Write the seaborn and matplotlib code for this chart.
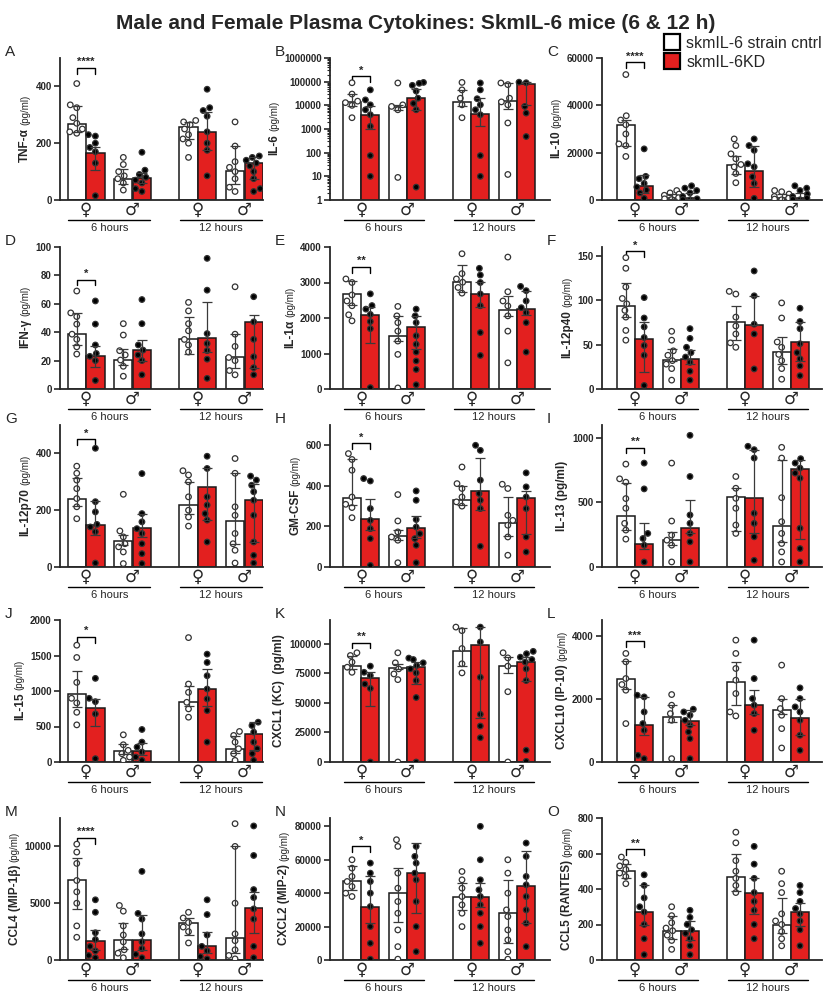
import numpy as np
import pandas as pd
import matplotlib
matplotlib.use("Agg")
import matplotlib.pyplot as plt
import seaborn as sns
from matplotlib.patches import Patch
from matplotlib.ticker import FixedLocator, LogLocator, NullFormatter

# groupes : F 6h, M 6h, F 12h, M 12h  x  (cntrl, KD)
conds = ["cntrl", "KD", "cntrl", "KD", "cntrl", "KD", "cntrl", "KD"]
sex_labels = ["♀", "♂", "♀", "♂"]
time_labels = ["6 hours", "12 hours"]
legend_labels = ["skmIL-6 strain cntrl", "skmIL-6KD"]

# A - TNF-a
a_med = [268, 167, 75, 77, 258, 240, 103, 130]
a_lo = [240, 105, 55, 60, 215, 175, 55, 75]
a_hi = [330, 188, 110, 95, 275, 310, 190, 150]
a_pts = [[410, 335, 325, 290, 270, 250, 240, 235],
         [230, 225, 200, 185, 170, 130, 15],
         [150, 125, 100, 85, 75, 60, 35],
         [168, 105, 90, 80, 70, 60, 40, 30],
         [280, 275, 265, 250, 230, 215, 200, 150],
         [390, 325, 315, 295, 240, 200, 175, 85],
         [275, 190, 135, 115, 100, 75, 45, 30],
         [155, 150, 140, 130, 120, 100, 75, 40, 30]]

# B - IL-6 (log)
b_med = [14000, 3800, 8500, 20000, 14000, 4400, 16000, 80000]
b_lo = [9000, 1000, 6500, 6500, 9000, 1300, 7000, 10500]
b_hi = [30000, 9000, 10500, 50000, 45000, 20000, 85000, 95000]
b_pts = [[90000, 30000, 15000, 13000, 10000, 3000],
         [45000, 17000, 10500, 6500, 4000, 1300, 75, 10],
         [88000, 10500, 9000, 6500, 9],
         [93000, 85000, 70000, 40000, 20000, 12000, 6500, 3.5],
         [93000, 45000, 20000, 10500, 3000],
         [88000, 45000, 19000, 10500, 6500, 4000, 75, 10],
         [88000, 75000, 20000, 14000, 10500, 1800, 12],
         [95000, 90000, 9000, 4700, 480]]

# C - IL-10
c_med = [31800, 5900, 1000, 900, 14600, 12100, 800, 900]
c_lo = [23000, 2800, 300, 300, 11000, 5600, 200, 300]
c_hi = [33800, 10500, 2500, 3000, 18800, 23000, 2500, 3000]
c_pts = [[53000, 35600, 33800, 31800, 27900, 23700, 23000, 18400],
         [21600, 10000, 9000, 7000, 5500, 4200, 3000, 700],
         [4000, 3000, 2500, 2000, 1000, 500, 200],
         [6000, 5000, 4000, 3000, 1500, 500, 200, 100],
         [25800, 23000, 19500, 17400, 15000, 14000, 11200, 7300],
         [25800, 23000, 21000, 15300, 14000, 9800, 7000, 700],
         [4000, 3500, 2500, 1500, 800, 400, 100],
         [6000, 5000, 4000, 2500, 1500, 800, 300, 100]]

# D - IFN-g
d_med = [38.6, 23.4, 20.4, 27.4, 34.9, 35.6, 22.2, 47.3]
d_lo = [31, 15.2, 17, 20, 25, 26, 15, 15]
d_hi = [53.6, 30.4, 28, 34.4, 51, 61, 38.6, 52]
d_pts = [[69, 53.6, 51, 45.7, 38.6, 35, 29.7, 24.6],
         [62, 45.7, 31, 25, 23, 20, 6],
         [46, 38, 27, 24, 20.4, 16, 9],
         [63, 46, 31, 27.4, 24, 20, 10],
         [61, 55, 46, 41, 34.9, 31, 26],
         [92, 69.6, 39, 32, 27, 21, 7.5],
         [72, 38.6, 30, 22.2, 20, 13, 10],
         [65, 47.3, 35, 22.7, 15, 10]]

# E - IL-1a
e_med = [2676, 2090, 1494, 1750, 3007, 2676, 2222, 2250]
e_lo = [2365, 1300, 1350, 1115, 2720, 2300, 2060, 2080]
e_hi = [3055, 2300, 2060, 2060, 3500, 3026, 2630, 2750]
e_pts = [[3100, 3000, 2650, 2480, 2345, 2090, 1920],
         [2680, 2350, 2250, 2100, 1900, 1700, 40],
         [2326, 2060, 1870, 1630, 1350, 975, 30],
         [2250, 2060, 1870, 1500, 1260, 1040, 790, 550, 120],
         [3810, 3250, 3100, 3007, 2860, 2700],
         [3400, 3210, 3000, 2676, 2345, 1590, 945],
         [3716, 2740, 2480, 2340, 2060, 1630, 737],
         [2890, 2770, 2480, 2290, 2150, 1870, 1040]]

# F - IL-12p40
f_med = [93, 56.5, 33, 34, 75, 72, 41.5, 53]
f_lo = [81, 19, 31, 28, 55, 71.6, 28, 31]
f_hi = [120, 75, 45, 44, 93.5, 105, 59, 76]
f_pts = [[148, 136, 115, 102, 96, 88.6, 81, 66, 55],
         [103, 80, 70, 58, 49, 38, 4],
         [65, 55, 43, 38, 32, 28, 23, 10],
         [68, 57, 47, 41, 36, 30, 20, 10],
         [110, 107, 81, 71, 62, 52, 47],
         [133, 105, 73, 62, 22.6],
         [97, 80, 53, 47, 39, 32, 23, 11],
         [91, 76, 68, 51, 41, 34, 26, 15]]

# G - IL-12p70
g_med = [241, 149, 91, 138, 218, 280, 162, 235]
g_lo = [214, 112, 76, 106, 188, 165, 82, 88]
g_hi = [315, 232, 112, 188, 300, 347, 330, 294]
g_pts = [[355, 330, 306, 276, 241, 212, 170],
         [418, 230, 194, 150, 141, 124, 14],
         [256, 127, 106, 82, 71, 53, 12],
         [329, 188, 159, 135, 118, 82, 47, 12],
         [339, 324, 300, 247, 200, 176, 144],
         [390, 347, 247, 218, 188, 165, 88],
         [382, 330, 212, 182, 118, 82, 59, 14],
         [320, 306, 288, 265, 235, 182, 88, 41, 14]]

# H - GM-CSF
h_med = [340, 235, 153, 192, 329, 375, 219, 342]
h_lo = [304, 181, 132, 145, 304, 280, 151, 164]
h_hi = [530, 337, 181, 250, 398, 535, 345, 375]
h_pts = [[559, 530, 477, 345, 309, 293, 243],
         [436, 424, 288, 230, 189, 140, 8],
         [357, 227, 173, 148, 132, 21],
         [375, 329, 234, 197, 164, 140, 107, 21],
         [493, 411, 387, 345, 321, 300],
         [600, 575, 428, 362, 329, 288, 102],
         [408, 387, 255, 230, 206, 148, 58],
         [464, 395, 345, 288, 148, 74]]

# I - IL-13
i_med = [395, 177, 213, 304, 540, 532, 320, 761]
i_lo = [290, 143, 169, 260, 278, 260, 190, 220]
i_hi = [650, 343, 273, 520, 615, 909, 831, 831]
i_pts = [[797, 683, 657, 530, 455, 338, 286, 216],
         [805, 605, 260, 221, 169, 39],
         [805, 356, 247, 208, 169, 39],
         [1020, 701, 403, 338, 260, 195, 39],
         [701, 610, 532, 455, 325, 260],
         [935, 909, 844, 416, 338, 234, 52],
         [927, 844, 537, 351, 260, 182, 117, 39],
         [839, 805, 766, 727, 688, 300, 143, 39]]

# J - IL-15
j_med = [958, 757, 150, 150, 850, 1028, 178, 397]
j_lo = [771, 514, 117, 93, 794, 794, 126, 164]
j_hi = [1285, 888, 257, 266, 1075, 1308, 364, 561]
j_pts = [[1645, 1472, 1121, 897, 832, 700, 523],
         [1178, 897, 850, 677, 47],
         [383, 243, 164, 117, 70, 23],
         [458, 280, 210, 140, 70, 23],
         [1752, 1098, 981, 841, 748, 631],
         [1519, 1402, 1215, 1028, 888, 724, 280],
         [430, 374, 280, 187, 117, 23],
         [561, 514, 421, 280, 187, 117, 23]]

# K - CXCL1 (KC)
k_med = [81500, 70700, 79500, 80100, 93500, 98600, 81500, 84400]
k_lo = [78700, 47400, 78700, 65900, 81500, 37500, 75300, 68800]
k_hi = [90000, 75800, 83000, 84400, 113000, 114000, 88600, 88600]
k_pts = [[92300, 90000, 84400, 80100, 75800],
         [81000, 75800, 73000, 65900, 62200, 0],
         [92300, 83800, 78700, 74400, 69600, 0],
         [87800, 86600, 83800, 81500, 78700, 75300, 68800, 54500, 0],
         [114000, 111000, 95900, 83000, 75300],
         [114000, 101400, 71600, 40300, 30400, 20500],
         [92300, 88000, 81000, 59400, 0],
         [93500, 91500, 88600, 86600, 84400, 78700, 68800, 10000, 600]]

# L - CXCL10 (IP-10)
l_med = [2645, 1164, 1428, 1291, 2540, 1800, 1640, 1397]
l_lo = [2328, 847, 1270, 1164, 1820, 1534, 1534, 847]
l_hi = [3196, 2063, 1820, 1640, 3175, 2275, 2010, 1990]
l_pts = [[3440, 3175, 2645, 2455, 2275, 1217],
         [2116, 2063, 1587, 1217, 1005, 212, 106],
         [2138, 1800, 1534, 1322, 106],
         [1672, 1587, 1481, 1322, 1164, 952, 741, 106],
         [3862, 3440, 2963, 2593, 2169, 1587, 1460],
         [3862, 2645, 2010, 1800, 1534, 1005],
         [3070, 2010, 1693, 1481, 1058, 444],
         [2349, 2010, 1746, 1587, 1323, 847, 370]]

# M - CCL4 (MIP-1b)
m_med = [7000, 1700, 1800, 1800, 3300, 1200, 1900, 4600]
m_lo = [4500, 900, 1000, 900, 2200, 600, 600, 2400]
m_hi = [9000, 2600, 3300, 4000, 3700, 2500, 10000, 6000]
m_pts = [[10200, 9500, 8500, 7000, 6000, 5000, 3000, 2000],
         [5300, 4200, 2400, 1800, 1200, 800, 400, 200],
         [4800, 4300, 3000, 2200, 1600, 900, 600, 200],
         [7800, 4100, 3600, 2300, 1600, 1000, 500, 200],
         [4200, 3700, 3300, 2900, 2500, 1500],
         [5300, 4000, 2200, 1200, 800, 300, 100],
         [12000, 10000, 5000, 2300, 1700, 900, 400, 100],
         [11800, 9200, 6200, 5500, 4500, 3600, 1200, 200]]

# N - CXCL2 (MIP-2)
n_med = [47000, 32000, 40000, 52000, 38000, 38000, 28000, 44000]
n_lo = [42000, 22000, 23000, 28000, 30000, 32000, 10000, 22000]
n_hi = [56000, 50000, 55000, 70000, 46000, 46000, 48000, 65000]
n_pts = [[60000, 55000, 50000, 47000, 44000, 40000, 38000],
         [58000, 52000, 47000, 40000, 32000, 20000, 10000, 500],
         [72000, 68000, 52000, 43000, 35000, 28000, 18000, 8000, 500],
         [68000, 62000, 58000, 52000, 48000, 35000, 20000, 5000],
         [53000, 48000, 43000, 38000, 33000, 28000, 20000],
         [80000, 60000, 48000, 42000, 38000, 33000, 28000, 20000, 10000],
         [60000, 52000, 40000, 30000, 26000, 18000, 12000, 5000, 500],
         [70000, 62000, 50000, 45000, 38000, 30000, 22000, 8000]]

# O - CCL5 (RANTES)
o_med = [500, 270, 165, 165, 470, 375, 200, 270]
o_lo = [460, 200, 120, 110, 390, 260, 150, 190]
o_hi = [540, 420, 250, 220, 600, 460, 350, 320]
o_pts = [[580, 550, 530, 510, 490, 470, 430],
         [480, 420, 350, 300, 270, 200, 120, 30],
         [300, 250, 210, 180, 165, 140, 110, 60],
         [280, 240, 200, 170, 150, 120, 80, 30],
         [720, 660, 560, 500, 460, 420, 380],
         [640, 540, 460, 380, 330, 280, 200, 120],
         [500, 430, 380, 260, 220, 200, 160, 120, 80],
         [420, 380, 330, 290, 260, 220, 170, 80]]

# lettre, nom, unite, donnees, ylim, ticks, etoiles, hauteur crochet, log
panels = [
    ("A", "TNF-α", "(pg/ml)", a_med, a_lo, a_hi, a_pts, (0, 500), [0, 200, 400], "****", 0.93, False),
    ("B", "IL-6", "(pg/ml)", b_med, b_lo, b_hi, b_pts, (1, 1e6), [1, 10, 100, 1000, 10000, 100000, 1000000], "*", 0.87, True),
    ("C", "IL-10", "(pg/ml)", c_med, c_lo, c_hi, c_pts, (0, 60000), [0, 20000, 40000, 60000], "****", 0.97, False),
    ("D", "IFN-γ", "(pg/ml)", d_med, d_lo, d_hi, d_pts, (0, 100), [0, 20, 40, 60, 80, 100], "*", 0.77, False),
    ("E", "IL-1α", "(pg/ml)", e_med, e_lo, e_hi, e_pts, (0, 4000), [0, 1000, 2000, 3000, 4000], "**", 0.86, False),
    ("F", "IL-12p40", "(pg/ml)", f_med, f_lo, f_hi, f_pts, (0, 160), [0, 50, 100, 150], "*", 0.97, False),
    ("G", "IL-12p70", "(pg/ml)", g_med, g_lo, g_hi, g_pts, (0, 500), [0, 200, 400], "*", 0.90, False),
    ("H", "GM-CSF", "(pg/ml)", h_med, h_lo, h_hi, h_pts, (0, 700), [0, 200, 400, 600], "*", 0.87, False),
    ("I", "IL-13 (pg/ml)", None, i_med, i_lo, i_hi, i_pts, (0, 1100), [0, 500, 1000], "**", 0.84, False),
    ("J", "IL-15", "(pg/ml)", j_med, j_lo, j_hi, j_pts, (0, 2000), [0, 500, 1000, 1500, 2000], "*", 0.88, False),
    ("K", "CXCL1 (KC)  (pg/ml)", None, k_med, k_lo, k_hi, k_pts, (0, 120000), [0, 25000, 50000, 75000, 100000], "**", 0.84, False),
    ("L", "CXCL10 (IP-10)", "(pg/ml)", l_med, l_lo, l_hi, l_pts, (0, 4500), [0, 2000, 4000], "***", 0.85, False),
    ("M", "CCL4 (MIP-1β)", "(pg/ml)", m_med, m_lo, m_hi, m_pts, (0, 12500), [0, 5000, 10000], "****", 0.86, False),
    ("N", "CXCL2 (MIP-2)", "(pg/ml)", n_med, n_lo, n_hi, n_pts, (0, 85000), [0, 20000, 40000, 60000, 80000], "*", 0.80, False),
    ("O", "CCL5 (RANTES)", "(pg/ml)", o_med, o_lo, o_hi, o_pts, (0, 800), [0, 200, 400, 600, 800], "**", 0.78, False),
]

# positions des barres sur l'axe x
positions = [0, 1, 2.5, 3.5, 6, 7, 8.5, 9.5]
sex_pos = [0.5, 3.0, 6.5, 9.0]

sns.set_style("ticks")
plt.rcParams["font.family"] = ["Liberation Sans", "DejaVu Sans"]

bar_pal = {"cntrl": "white", "KD": "#e3201f"}
dot_pal = {"cntrl": "white", "KD": "black"}

col_x = [60 / 832, 330 / 832, 602 / 832]
col_w = [203 / 832, 220 / 832, 220 / 832]
col_xlim = [(-0.9, 10.0), (-1.2, 10.8), (-1.3, 10.7)]
row_y = [0.800, 0.611, 0.433, 0.238, 0.040]
row_h = 0.142

fig = plt.figure(figsize=(8.32, 10), dpi=100)

for i, (letter, name, unit, med, lo, hi, pts, ylim, yticks, stars, br_y, logy) in enumerate(panels):
    r, c = divmod(i, 3)
    ax = fig.add_axes([col_x[c], row_y[r], col_w[c], row_h])
    if logy:
        ax.set_yscale("log")

    bars = pd.DataFrame({"pos": positions, "val": med, "cond": conds})
    dots = pd.DataFrame([(positions[g], v, conds[g]) for g in range(8) for v in pts[g]],
                        columns=["pos", "val", "cond"])

    sns.barplot(data=bars, x="pos", y="val", hue="cond", hue_order=["cntrl", "KD"],
                palette=bar_pal, saturation=1, native_scale=True, dodge=False, width=0.98,
                errorbar=None, edgecolor="#1a1a1a", linewidth=1.1, legend=False,
                ax=ax, zorder=1)
    sns.swarmplot(data=dots, x="pos", y="val", hue="cond", hue_order=["cntrl", "KD"],
                  palette=dot_pal, native_scale=True, dodge=False, size=4.0,
                  edgecolor="#333333", linewidth=0.9, legend=False, warn_thresh=1,
                  ax=ax, zorder=3)
    med_a = np.array(med, dtype=float)
    ax.errorbar(positions, med_a, yerr=[med_a - np.array(lo), np.array(hi) - med_a],
                fmt="none", ecolor="#3a3a3a", elinewidth=0.9, capsize=3.5, capthick=0.9, zorder=4)

    ax.set_xlim(col_xlim[c])
    ax.set_ylim(ylim)
    ax.yaxis.set_major_locator(FixedLocator(yticks))
    ax.set_yticklabels([str(int(t)) for t in yticks])
    if logy:
        ax.yaxis.set_minor_locator(LogLocator(base=10, subs=np.arange(2, 10)))
        ax.yaxis.set_minor_formatter(NullFormatter())
    ax.set_xticks([])
    ax.tick_params(axis="y", which="major", length=4, width=1.2, labelsize=7, pad=2)
    ax.tick_params(axis="y", which="minor", length=2, width=0.8)
    for lab in ax.get_yticklabels():
        lab.set_fontweight("bold")
    sns.despine(ax=ax)
    for sp in ["left", "bottom"]:
        ax.spines[sp].set_linewidth(1.3)
    ax.set_xlabel("")

    # titre axe y : nom en gras + unite plus petite
    if unit:
        ax.set_ylabel(name, fontsize=8.5, fontweight="bold", y=0.39, labelpad=3)
        ax.annotate(unit, xy=(0.5, 1), xycoords=ax.yaxis.label, xytext=(0, 2),
                    textcoords="offset points", rotation=90, ha="center", va="bottom", fontsize=7)
    else:
        ax.set_ylabel(name, fontsize=8.5, fontweight="bold", labelpad=3)

    tr = ax.get_xaxis_transform()
    # symboles femelle / male
    for k, sx in enumerate(sex_pos):
        ax.text(sx, -0.005, sex_labels[k], transform=tr, ha="center", va="top",
                fontsize=12, fontweight="bold", family="DejaVu Sans")

    # lignes et textes 6 h / 12 h
    for k, (x0, x1) in enumerate([(-0.45, 3.95), (5.55, 9.95)]):
        ax.plot([x0, x1], [-0.138, -0.138], transform=tr, color="black", lw=1, clip_on=False)
        ax.text((x0 + x1) / 2, -0.2, time_labels[k], transform=tr, ha="center", va="center", fontsize=8)

    # crochet de significativite
    ax.plot([positions[0], positions[0], positions[1], positions[1]],
            [br_y - 0.04, br_y, br_y, br_y - 0.04], transform=tr, color="black", lw=1, clip_on=False)
    ax.text((positions[0] + positions[1]) / 2, br_y + 0.005, stars, transform=tr,
            ha="center", va="bottom", fontsize=8, fontweight="bold")

    fig.text(col_x[c] - 0.066, row_y[r] + row_h + 0.006, letter, fontsize=11, va="center")

# legende
handles = [Patch(facecolor=bar_pal["cntrl"], edgecolor="black", linewidth=1.6),
           Patch(facecolor=bar_pal["KD"], edgecolor="black", linewidth=1.6)]
fig.legend(handles, legend_labels, loc="upper left", bbox_to_anchor=(664 / 832, 1 - 34 / 1000),
           frameon=False, fontsize=11.5, handlelength=1.0, handleheight=1.2,
           handletextpad=0.4, labelspacing=0.15, borderaxespad=0, borderpad=0)

fig.suptitle("Male and Female Plasma Cytokines: SkmIL-6 mice (6 & 12 h)",
             fontsize=15, fontweight="bold", y=0.986)

fig.savefig("out.png", dpi=100)
